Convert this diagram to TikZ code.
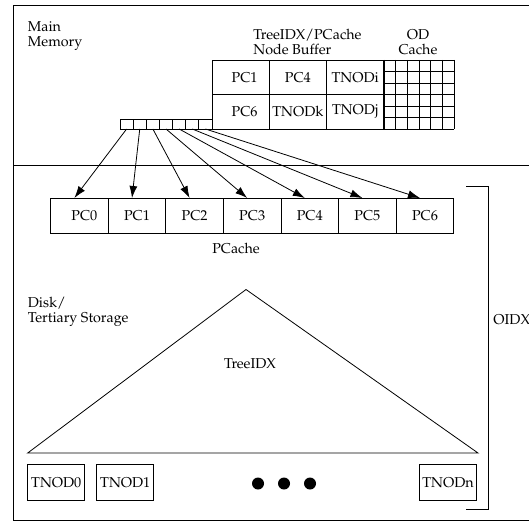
\documentclass[tikz,border=0pt]{standalone}
\usepackage[T1]{fontenc}
\renewcommand{\rmdefault}{ppl}
\usetikzlibrary{arrows.meta,positioning}

\begin{document}
\begin{tikzpicture}[x=1pt, y=-1pt, >={Latex[length=12pt,width=8pt]},
    line width=0.8pt, font=\fontsize{14.3}{14.5}\selectfont,
    bufcell/.style={draw, rectangle, minimum width=57.3pt, minimum height=34.5pt,
        inner sep=1pt, outer sep=0pt},
    pccell/.style={draw, rectangle, minimum width=57.6pt, minimum height=35pt,
        inner sep=1pt, outer sep=0pt},
    slotcell/.style={draw, rectangle, minimum width=13.14pt, minimum height=9.5pt,
        inner sep=0pt, outer sep=0pt},
    leafbox/.style={draw, rectangle, minimum width=57pt, minimum height=35.5pt,
        inner sep=1pt, outer sep=0pt},
    lbl/.style={align=left, inner sep=0pt}]
    \useasboundingbox (0,0) rectangle (529,521);

    % Frame and memory / disk divider
    \draw (560,5) -- (13.5,5) -- (13.5,520) -- (560,520);
    \draw (13.5,165) -- (560,165);

    % Labels of the two levels
    \node[lbl, anchor=west] (mainmem) at (27.5,36) {Main\\Memory};
    \node[lbl, anchor=west] (disk) at (27.5,312) {Disk/\\Tertiary Storage};

    % TreeIDX/PCache node buffer
    \node[lbl, anchor=west] (buflbl) at (253,42) {TreeIDX/PCache\\Node Buffer};
    \node[bufcell] (nb1) at (240.6,77.3) {\hspace*{8pt}PC1};
    \node[bufcell, right=0pt of nb1] (nb4) {PC4};
    \node[bufcell, right=0pt of nb4] (nbi) {TNODi};
    \node[bufcell, below=0pt of nb1] (nb6) {\hspace*{8pt}PC6};
    \node[bufcell, right=0pt of nb6] (nbk) {TNODk};
    \node[bufcell, right=0pt of nbk] (nbj) {TNODj};

    % OD cache
    \node[lbl, align=center] (odlbl) at (418,42) {OD\\Cache};
    \foreach \i in {0,...,6} {
        \draw (384+11.67*\i,60) -- (384+11.67*\i,129);
        \draw (384,60+11.5*\i) -- (454,60+11.5*\i);
    }

    % Slot array pointing into the PCache
    \foreach \i in {0,...,6}
        \node[slotcell] (slot\i) at (126.6+13.14*\i,124.25) {};

    % PCache
    \node[pccell] (pc0) at (79.4,215.5) {\hspace*{10pt}PC0};
    \foreach \i/\j in {1/0,2/1,3/2,4/3,5/4,6/5}
        \node[pccell, right=0pt of pc\j] (pc\i) {PC\i};
    \node (pcachelbl) at (236,248) {PCache};

    \foreach \i in {0,...,6}
        \draw[->] (slot\i.south) -- ([xshift=-5pt]pc\i.north);

    % TreeIDX triangle
    \draw (246,289.5) -- (27.7,453) -- (478,453) -- cycle;
    \node (treelbl) at (250,364) {TreeIDX};

    % Leaf nodes
    \node[leafbox] (leaf0) at (56.3,482.3) {TNOD0};
    \node[leafbox, right=12pt of leaf0] (leaf1) {TNOD1};
    \node[leafbox] (leafn) at (448,482.3) {TNODn};
    \foreach \x in {258,284,310}
        \fill (\x,483.5) circle (6pt);

    % OIDX bracket
    \draw (466,186) -- (488,186) -- (488,509) -- (466,509);
    \node[anchor=west, inner sep=0pt] (oidx) at (493,320) {OIDX};
\end{tikzpicture}
\end{document}
